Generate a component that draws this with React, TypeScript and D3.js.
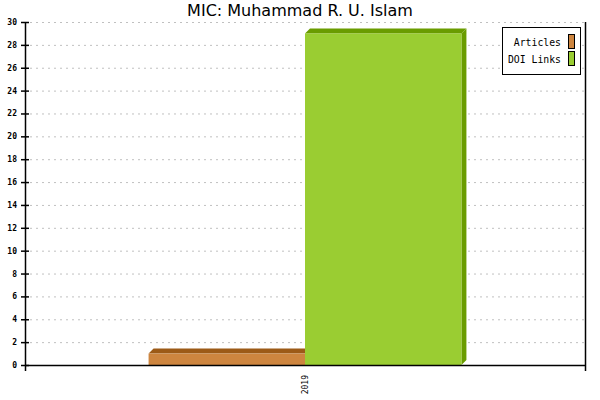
import React, { useEffect, useRef } from "react";
import * as d3 from "d3";

const categories = ["2019"];
const seriesNames = ["Articles", "DOI Links"];
const articles = [1];
const doiLinks = [29];
const yTicks = [0, 2, 4, 6, 8, 10, 12, 14, 16, 18, 20, 22, 24, 26, 28, 30];

const frontColors = ["#CD853F", "#9ACD32"];
const darkColors = ["#9C5A17", "#6A9C00"];

const App: React.FC = () => {
  const svgRef = useRef<SVGSVGElement>(null);

  useEffect(() => {
    if (!svgRef.current) return;
    const width = 600;
    const height = 400;
    const margin = { top: 22, right: 15, bottom: 35, left: 25 };
    const depth = 5;

    const svg = d3.select(svgRef.current);
    svg.selectAll("*").remove();
    svg.attr("width", width).attr("height", height);

    // background
    svg.append("rect").attr("width", width).attr("height", height).attr("fill", "#fff");

    const x = d3
      .scaleBand()
      .domain(categories)
      .range([margin.left, width - margin.right])
      .paddingInner(0)
      .paddingOuter(0.395);

    const xs = d3.scaleBand().domain(seriesNames).range([0, x.bandwidth()]);

    const y = d3
      .scaleLinear()
      .domain([0, 30])
      .range([height - margin.bottom, margin.top]);

    const mono = "'DejaVu Sans Mono', monospace";

    // GRID
    svg
      .append("g")
      .selectAll("line")
      .data(yTicks.filter(t => t > 0))
      .enter()
      .append("line")
      .attr("x1", margin.left + 5)
      .attr("x2", width - margin.right)
      .attr("y1", d => y(d) + 0.5)
      .attr("y2", d => y(d) + 0.5)
      .attr("stroke", "#c0c0c0")
      .attr("stroke-dasharray", "2,4");

    // BARS (3D)
    const series = [articles, doiLinks];
    series.forEach((vals, si) => {
      categories.forEach((cat, ci) => {
        const x0 = (x(cat) ?? 0) + (xs(seriesNames[si]) ?? 0);
        const x1 = x0 + xs.bandwidth();
        const yTop = y(vals[ci]);
        const y0 = y(0);
        const g = svg.append("g");
        g.append("polygon")
          .attr(
            "points",
            [
              [x0, yTop],
              [x0 + depth, yTop - depth],
              [x1 + depth, yTop - depth],
              [x1, yTop]
            ].join(" ")
          )
          .attr("fill", darkColors[si]);
        g.append("polygon")
          .attr(
            "points",
            [
              [x1, yTop],
              [x1 + depth, yTop - depth],
              [x1 + depth, y0 - depth],
              [x1, y0]
            ].join(" ")
          )
          .attr("fill", darkColors[si]);
        g.append("rect")
          .attr("x", x0)
          .attr("y", yTop)
          .attr("width", x1 - x0)
          .attr("height", y0 - yTop)
          .attr("fill", frontColors[si]);
      });
    });

    // Y AXIS
    const yAxis = svg.append("g");
    yAxis
      .append("line")
      .attr("x1", margin.left + 0.5)
      .attr("x2", margin.left + 0.5)
      .attr("y1", margin.top)
      .attr("y2", y(0) + 6)
      .attr("stroke", "#000")
      .attr("stroke-width", 1.5);
    yAxis
      .selectAll("line.tick")
      .data(yTicks)
      .enter()
      .append("line")
      .attr("class", "tick")
      .attr("x1", margin.left - 4)
      .attr("x2", margin.left + 4)
      .attr("y1", d => y(d) + 0.5)
      .attr("y2", d => y(d) + 0.5)
      .attr("stroke", "#000")
      .attr("stroke-width", 1.5);
    yAxis
      .selectAll("text")
      .data(yTicks)
      .enter()
      .append("text")
      .attr("x", margin.left - 8)
      .attr("y", d => y(d) + 3)
      .attr("text-anchor", "end")
      .style("font-family", mono)
      .style("font-size", "8px")
      .style("font-weight", "bold")
      .text(d => d);

    // RIGHT LINE
    svg
      .append("line")
      .attr("x1", width - margin.right + 0.5)
      .attr("x2", width - margin.right + 0.5)
      .attr("y1", margin.top)
      .attr("y2", y(0) + 6)
      .attr("stroke", "#000")
      .attr("stroke-width", 1.5);

    // X AXIS
    svg
      .append("line")
      .attr("x1", margin.left)
      .attr("x2", width - margin.right)
      .attr("y1", y(0) + 0.5)
      .attr("y2", y(0) + 0.5)
      .attr("stroke", "#000")
      .attr("stroke-width", 1.5);

    categories.forEach(cat => {
      const cx = (x(cat) ?? 0) + x.bandwidth() / 2;
      svg
        .append("text")
        .attr("transform", `translate(${cx + 3},${y(0) + 10}) rotate(-90)`)
        .attr("text-anchor", "end")
        .style("font-family", mono)
        .style("font-size", "8px")
        .text(cat);
    });

    // LEGEND
    const legend = svg.append("g").attr("transform", "translate(502,27)");
    legend
      .append("rect")
      .attr("x", 0.5)
      .attr("y", 0.5)
      .attr("width", 78)
      .attr("height", 47)
      .attr("fill", "#fff")
      .attr("stroke", "#000");
    seriesNames.forEach((name, i) => {
      legend
        .append("text")
        .attr("x", 59)
        .attr("y", 19 + i * 17)
        .attr("text-anchor", "end")
        .style("font-family", mono)
        .style("font-size", "9.8px")
        .text(name);
      legend
        .append("rect")
        .attr("x", 66.5)
        .attr("y", 7.5 + i * 17)
        .attr("width", 6)
        .attr("height", 14)
        .attr("fill", frontColors[i])
        .attr("stroke", "#000");
    });

    // TITLE
    svg
      .append("text")
      .attr("x", width / 2)
      .attr("y", 16)
      .attr("text-anchor", "middle")
      .style("font-family", "'DejaVu Sans', sans-serif")
      .style("font-size", "16px")
      .text("MIC: Muhammad R. U. Islam");
  }, []);

  return (
    <svg
      ref={svgRef}
      style={{ position: "absolute", left: 0, top: 0, display: "block" }}
    ></svg>
  );
};

export default App;
